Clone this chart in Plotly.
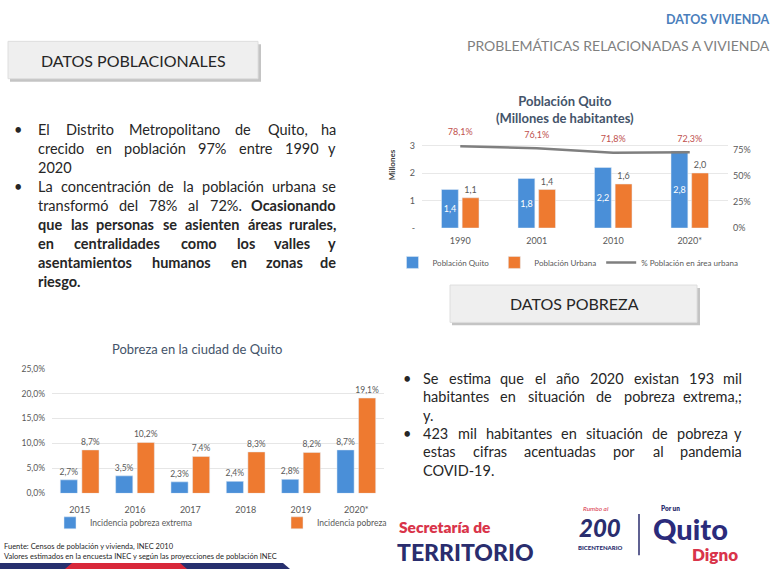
import plotly.graph_objects as go

W, H = 774, 574


def px(x):
    return x / W


def py(y):
    return 1 - y / H


# ---------------- data ----------------
years_pop = ["1990", "2001", "2010", "2020*"]
pop_quito = [1.4, 1.8, 2.2, 2.8]
pop_urbana = [1.1, 1.4, 1.6, 2.0]
pct_urbana = [0.781, 0.761, 0.718, 0.723]

years_pov = ["2015", "2016", "2017", "2018", "2019", "2020*"]
pov_extrema = [0.027, 0.035, 0.023, 0.024, 0.028, 0.087]
pov_total = [0.087, 0.102, 0.074, 0.083, 0.082, 0.191]

pop_left_ticks = [0, 1, 2, 3]
pop_left_ticktext = ["-", "1", "2", "3"]
pop_right_ticks = [0, 0.25, 0.5, 0.75]

BLUE = "#4a8fd8"
ORANGE = "#ee7a30"
GRAYTXT = "#595959"
FONT = "Lato"
TXT = "#262626"

fig = go.Figure()

# ---------------- chart 1: Población Quito ----------------
fig.add_trace(go.Bar(
    x=years_pop, y=pop_quito, name="Población Quito",
    marker=dict(color=BLUE), width=0.22, offset=-0.245,
    texttemplate="%{y:.1f}", textposition="inside", insidetextanchor="middle",
    textangle=0, constraintext="none",
    textfont=dict(color="white", size=9, family=FONT),
    xaxis="x", yaxis="y", legend="legend"))
fig.add_trace(go.Bar(
    x=years_pop, y=pop_urbana, name="Población Urbana",
    marker=dict(color=ORANGE), width=0.22, offset=0.025,
    texttemplate="%{y:.1f}", textposition="outside", textangle=0,
    constraintext="none", cliponaxis=False,
    textfont=dict(color=GRAYTXT, size=9, family=FONT),
    xaxis="x", yaxis="y", legend="legend"))
fig.add_trace(go.Scatter(
    x=years_pop, y=pct_urbana, name="% Población en área urbana",
    mode="lines+markers+text", line=dict(color="#7f7f7f", width=2.5),
    marker=dict(size=12, color="rgba(0,0,0,0)"),
    texttemplate="%{y:.1%}", textposition="top center", cliponaxis=False,
    textfont=dict(color="#c0504d", size=9, family=FONT),
    xaxis="x", yaxis="y2", legend="legend"))

# ---------------- chart 2: Pobreza ----------------
fig.add_trace(go.Bar(
    x=years_pov, y=pov_extrema, name="Incidencia pobreza extrema",
    marker=dict(color=BLUE), width=0.31, offset=-0.35,
    texttemplate="%{y:.1%}", textposition="outside", textangle=0,
    constraintext="none", cliponaxis=False,
    textfont=dict(color=GRAYTXT, size=8.5, family=FONT),
    xaxis="x2", yaxis="y3", legend="legend2"))
fig.add_trace(go.Bar(
    x=years_pov, y=pov_total, name="Incidencia pobreza",
    marker=dict(color=ORANGE), width=0.31, offset=0.04,
    texttemplate="%{y:.1%}", textposition="outside", textangle=0,
    constraintext="none", cliponaxis=False,
    textfont=dict(color=GRAYTXT, size=8.5, family=FONT),
    xaxis="x2", yaxis="y3", legend="legend2"))

tickfont = dict(size=9, color=GRAYTXT, family=FONT)

fig.update_layout(
    width=W, height=H, margin=dict(l=0, r=0, t=0, b=0),
    paper_bgcolor="white", plot_bgcolor="rgba(0,0,0,0)",
    separators=",.", font=dict(family=FONT, color=TXT),
    barmode="group", showlegend=True,
    xaxis=dict(domain=[px(422), px(728)], anchor="y", type="category",
               showgrid=False, ticks="", showline=False, tickfont=tickfont,
               ticklabelstandoff=6),
    yaxis=dict(domain=[py(227), py(137)], anchor="x", range=[0, 3.214],
               tickvals=pop_left_ticks, ticktext=pop_left_ticktext,
               gridcolor="#e8e8e8", zeroline=False, showline=False,
               tickfont=tickfont, ticklabelstandoff=6),
    yaxis2=dict(overlaying="y", side="right", anchor="x", range=[0, 0.84375],
                tickvals=pop_right_ticks, tickformat=".0%", showgrid=False,
                zeroline=False, showline=False, tickfont=tickfont,
                ticklabelstandoff=4),
    xaxis2=dict(domain=[px(52), px(384)], anchor="y3", type="category",
                showgrid=False, ticks="", showline=False, tickfont=tickfont,
                ticklabelstandoff=10),
    yaxis3=dict(domain=[py(497), py(370)], anchor="x2", range=[0, 0.2501],
                dtick=0.05, tickformat=".1%", gridcolor="#e6e6e6",
                zeroline=False, showline=False,
                tickfont=dict(size=8.5, color=GRAYTXT, family=FONT),
                ticklabelstandoff=6),
    legend=dict(orientation="h", x=px(568), xanchor="center", y=py(262),
                yanchor="middle", font=dict(size=8, color=GRAYTXT, family=FONT),
                bgcolor="rgba(0,0,0,0)", itemwidth=30, tracegroupgap=0),
    legend2=dict(orientation="h", x=px(50), xanchor="left", y=py(527),
                 yanchor="middle", font=dict(size=8.5, color=GRAYTXT, family=FONT),
                 bgcolor="rgba(0,0,0,0)", entrywidth=182, entrywidthmode="pixels"),
)

shapes = []
annotations = []


def rect(x0, y0, x1, y1, fill, line=None, lw=0):
    shapes.append(dict(type="rect", xref="paper", yref="paper",
                       x0=px(x0), x1=px(x1), y0=py(y1), y1=py(y0),
                       fillcolor=fill, line=dict(color=line or fill, width=lw),
                       layer="below"))


def text(x, y, s, size, color=TXT, xanchor="left", bold=False, weight=None,
         angle=0, family=FONT, italic=False):
    f = dict(size=size, color=color, family=family)
    if weight is not None:
        f["weight"] = weight
    if italic:
        f["style"] = "italic"
    annotations.append(dict(x=px(x), y=py(y), xref="paper", yref="paper",
                            text=("<b>%s</b>" % s) if bold else s,
                            showarrow=False, xanchor=xanchor, yanchor="middle",
                            font=f, textangle=angle, borderpad=0))


# header
text(771, 15, "DATOS VIVIENDA", 12.5, color="#4a7ebb", xanchor="right", bold=True)
text(771, 41, "PROBLEMÁTICAS RELACIONADAS A VIVIENDA", 14, color="#7f7f7f",
     xanchor="right")

# section boxes
rect(10, 40, 261, 78, "#c4c4c4")
rect(8, 37, 258, 75, "#efefef", "#dedede", 1)
text(133, 56, "DATOS POBLACIONALES", 16, xanchor="center")
rect(452, 288, 700, 326, "#c4c4c4")
rect(450, 285, 697, 323, "#efefef", "#dedede", 1)
text(574, 304, "DATOS POBREZA", 16, xanchor="center")

# chart titles
annotations.append(dict(x=px(565), y=py(106), xref="paper", yref="paper",
                        text="<b>Población Quito<br>(Millones de habitantes)</b>",
                        showarrow=False, xanchor="center", yanchor="middle",
                        font=dict(size=13, color="#44546a", family=FONT)))
text(392, 163, "Millones", 8, color="#404040", xanchor="center", bold=True, angle=-90)
text(197, 350, "Pobreza en la ciudad de Quito", 13, color="#44546a", xanchor="center")

# ------------- paragraph text with approximate justification -------------
CW = {"a": .49, "b": .56, "c": .45, "d": .56, "e": .52, "f": .32, "g": .50,
      "h": .56, "i": .24, "j": .24, "k": .50, "l": .24, "m": .84, "n": .56,
      "o": .56, "p": .56, "q": .56, "r": .36, "s": .41, "t": .34, "u": .56,
      "v": .50, "w": .76, "x": .48, "y": .50, "z": .44, "á": .49, "é": .52,
      "í": .24, "ó": .56, "ú": .56, "ñ": .56, ",": .2, ".": .2, ";": .22,
      "%": .78, "-": .34, "I": .28, "M": .8, "E": .54, "L": .48, "Q": .74,
      "D": .7, "C": .64, "O": .74, "V": .66, "S": .52}


def est(word, bold):
    w = 0
    for ch in word:
        if ch.isdigit():
            w += .58
        elif ch in CW:
            w += CW[ch]
        elif ch.isupper():
            w += .64
        else:
            w += .5
    return w * (1.05 if bold else 1.0)


BODY = 14.5


def line(words, y, x0, x1, justify=True):
    ws = [est(w, b) * BODY for w, b in words]
    if justify and len(words) > 1:
        gap = (x1 - x0 - sum(ws)) / (len(words) - 1)
    else:
        gap = 0.22 * BODY
    x = x0
    for i, (w, b) in enumerate(words):
        if justify and len(words) > 1 and i == len(words) - 1:
            text(x1, y, w, BODY, xanchor="right", bold=b)
        else:
            text(x, y, w, BODY, xanchor="left", bold=b)
        x += ws[i] + gap


def reg(s):
    return [(w, False) for w in s.split()]


def bold(s):
    return [(w, True) for w in s.split()]


LX0, LX1, LY, LS = 37, 337, 127, 19.3
left_lines = [
    (reg("El Distrito Metropolitano de Quito, ha"), True),
    (reg("crecido en población 97% entre 1990 y"), True),
    (reg("2020"), False),
    (reg("La concentración de la población urbana se"), True),
    (reg("transformó del 78% al 72%.") + bold("Ocasionando"), True),
    (bold("que las personas se asienten áreas rurales,"), True),
    (bold("en centralidades como los valles y"), True),
    (bold("asentamientos humanos en zonas de"), True),
    (bold("riesgo."), False),
]
for i, (ws, j) in enumerate(left_lines):
    line(ws, LY + i * LS, LX0, LX1, j)
text(13, LY, "•", BODY)
text(13, LY + 3 * LS, "•", BODY)

RX0, RX1, RY, RS = 422, 743, 380, 18.7
right_lines = [
    (reg("Se estima que el año 2020 existan 193 mil"), True),
    (reg("habitantes en situación de pobreza extrema,;"), True),
    (reg("y."), False),
    (reg("423 mil habitantes en situación de pobreza y"), True),
    (reg("estas cifras acentuadas por al pandemia"), True),
    (reg("COVID-19."), False),
]
for i, (ws, j) in enumerate(right_lines):
    line(ws, RY + i * RS, RX0, RX1, j)
text(402, RY, "•", BODY)
text(402, RY + 3 * RS, "•", BODY)

# source notes
text(3, 551, "Fuente: Censos de población y vivienda, INEC 2010", 7.5)
text(3, 561, "Valores estimados en la encuesta INEC y según las proyecciones de población INEC", 7.5)

# bottom-left band
shapes.append(dict(type="path", xref="paper", yref="paper",
                   path="M 0,%f L %f,%f L %f,%f L 0,%f Z" % (
                       py(568), px(283), py(568), px(290), py(574), py(574)),
                   fillcolor="#27306e", line=dict(width=0)))
shapes.append(dict(type="path", xref="paper", yref="paper",
                   path="M %f,%f L %f,%f L %f,%f L %f,%f Z" % (
                       px(72), py(568), px(180), py(568), px(187), py(574),
                       px(65), py(574)),
                   fillcolor="#d8283a", line=dict(width=0)))

# logos (text-based)
text(398, 531, "Secretaría de", 15.5, color="#d9344a", weight=800)
text(396, 557, "TERRITORIO", 23, color="#2a2d6e", weight=900)
text(596, 512, "Rumbo al", 6.5, color="#d9344a", xanchor="center", italic=True)
text(600, 532, "200", 24, color="#2a2d6e", xanchor="center", weight=900, italic=True)
text(600, 552, "BICENTENARIO", 6, color="#2a2d6e", xanchor="center", weight=900)
shapes.append(dict(type="line", xref="paper", yref="paper",
                   x0=px(639), x1=px(639), y0=py(518), y1=py(560),
                   line=dict(color="#2a2d6e", width=1.5)))
text(670, 512, "Por un", 6.5, color="#2a2d6e", xanchor="center", weight=800)
text(652, 533, "Quito", 29, color="#2b2b7b", weight=900)
text(739, 559, "Digno", 17, color="#d9344a", xanchor="right", weight=800)

fig.update_layout(shapes=shapes, annotations=annotations)

fig.write_html("out.html", config={"displayModeBar": False},
               post_script="document.body.style.margin='0';"
                           "document.body.style.padding='0';")
